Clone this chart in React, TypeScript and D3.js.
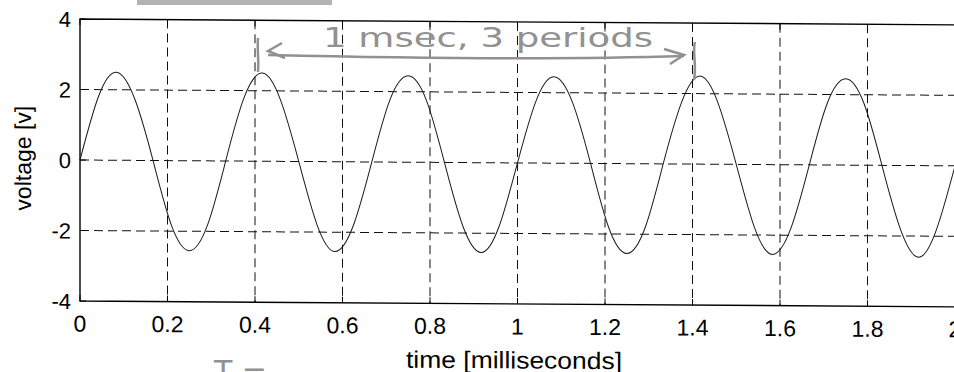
import * as d3 from "d3";

const timeMs = [
  0, 0.042, 0.083, 0.125, 0.167, 0.208, 0.25, 0.292,
  0.333, 0.375, 0.417, 0.458, 0.5, 0.542, 0.583, 0.625,
  0.667, 0.708, 0.75, 0.792, 0.833, 0.875, 0.917, 0.958,
  1, 1.042, 1.083, 1.125, 1.167, 1.208, 1.25, 1.292,
  1.333, 1.375, 1.417, 1.458, 1.5, 1.542, 1.583, 1.625,
  1.667, 1.708, 1.75, 1.792, 1.833, 1.875, 1.917, 1.958, 2,
];
const voltage = [
  0, 1.8, 2.5, 1.75, 0, -1.8, -2.55, -1.8,
  0, 1.8, 2.5, 1.75, 0, -1.8, -2.55, -1.8,
  0, 1.75, 2.45, 1.75, 0, -1.8, -2.55, -1.8,
  0, 1.75, 2.45, 1.75, 0, -1.8, -2.55, -1.8,
  0, 1.75, 2.5, 1.75, 0, -1.8, -2.55, -1.8,
  0, 1.75, 2.45, 1.75, 0, -1.8, -2.6, -1.8,
  0,
];
const xTicks = [0, 0.2, 0.4, 0.6, 0.8, 1, 1.2, 1.4, 1.6, 1.8, 2];
const xTickLabels = ["0", "0.2", "0.4", "0.6", "0.8", "1", "1.2", "1.4", "1.6", "1.8", "2"];
const yTicks = [-4, -2, 0, 2, 4];
const yTickLabels = ["-4", "-2", "0", "2", "4"];

const W = 954;
const H = 372;
const font = "'Liberation Sans', Arial, sans-serif";
const pencil = "#919191";

export default function App() {
  const x = d3.scaleLinear().domain([0, 2]).range([80, 955]);
  const y = d3.scaleLinear().domain([-4, 4]).range([300.5, 18.5]);

  const pts = timeMs.map((t, i) => [t, voltage[i]] as [number, number]);
  const line = d3
    .line<[number, number]>()
    .x((d) => x(d[0]))
    .y((d) => y(d[1]))
    .curve(d3.curveNatural);

  const [x0, x1] = x.range();
  const [yb, yt] = y.range();

  return (
    <svg
      width={W}
      height={H}
      style={{ position: "absolute", left: 0, top: 0, background: "#fff" }}
    >
      {/* scanned page is a little skewed */}
      <g transform="skewY(0.38)">
        {/* grid */}
        {xTicks
          .filter((t) => t > 0 && t < 2)
          .map((t) => (
            <line
              key={"gx" + t}
              x1={x(t)}
              x2={x(t)}
              y1={yt}
              y2={yb}
              stroke="#111"
              strokeWidth={1}
              strokeDasharray="9,5"
            />
          ))}
        {yTicks
          .filter((t) => t > -4 && t < 4)
          .map((t) => (
            <line
              key={"gy" + t}
              x1={x0}
              x2={x1}
              y1={y(t)}
              y2={y(t)}
              stroke="#111"
              strokeWidth={1}
              strokeDasharray="9,5"
            />
          ))}

        {/* axes box */}
        <path
          d={`M${x1},${yt}H${x0}V${yb}H${x1}`}
          fill="none"
          stroke="#000"
          strokeWidth={1.4}
        />
        {xTicks.map((t) => (
          <g key={"tx" + t}>
            <line x1={x(t)} x2={x(t)} y1={yb} y2={yb - 6} stroke="#000" />
            <line x1={x(t)} x2={x(t)} y1={yt} y2={yt + 6} stroke="#000" />
          </g>
        ))}
        {yTicks.map((t) => (
          <line key={"ty" + t} x1={x0} x2={x0 + 6} y1={y(t)} y2={y(t)} stroke="#000" />
        ))}

        {/* signal */}
        <path d={line(pts) || ""} fill="none" stroke="#1a1a1a" strokeWidth={1} />

        {/* tick labels */}
        {xTicks.map((t, i) => (
          <text
            key={"lx" + t}
            x={x(t)}
            y={331}
            textAnchor="middle"
            fontFamily={font}
            fontSize={23}
            fill="#000"
          >
            {xTickLabels[i]}
          </text>
        ))}
        {yTicks.map((t, i) => (
          <text
            key={"ly" + t}
            x={71}
            y={y(t) + 8}
            textAnchor="end"
            fontFamily={font}
            fontSize={22}
            fill="#000"
          >
            {yTickLabels[i]}
          </text>
        ))}

        {/* axis titles */}
        <text
          x={514}
          y={365}
          textAnchor="middle"
          fontFamily={font}
          fontSize={24}
          textLength={216}
          lengthAdjust="spacingAndGlyphs"
        >
          time [milliseconds]
        </text>
        <text
          transform="translate(31,158) rotate(-90)"
          textAnchor="middle"
          fontFamily={font}
          fontSize={23}
        >
          voltage [v]
        </text>
      </g>

      {/* pencil annotations */}
      <rect x={137} y={0} width={195} height={5} fill="#b3b3b3" />
      <path
        d="M258,38 C257,48 259,60 258,72"
        fill="none"
        stroke={pencil}
        strokeWidth={2.5}
      />
      <path
        d="M695,42 C692,52 697,64 694,80"
        fill="none"
        stroke={pencil}
        strokeWidth={2.5}
      />
      <path
        d="M268,55 C400,58 560,60 684,56"
        fill="none"
        stroke={pencil}
        strokeWidth={2.5}
      />
      <path d="M282,43 L268,51 L285,58" fill="none" stroke={pencil} strokeWidth={2.5} />
      <path d="M664,49 L684,55 L670,64" fill="none" stroke={pencil} strokeWidth={2.5} />
      <text
        x={323}
        y={47}
        fontFamily="'DejaVu Sans', sans-serif"
        fontSize={27}
        fill={pencil}
        textLength={330}
        lengthAdjust="spacingAndGlyphs"
      >
        1 msec, 3 periods
      </text>
      <text
        x={214}
        y={382}
        fontFamily="'DejaVu Sans', sans-serif"
        fontSize={30}
        fill={pencil}
      >
        T =
      </text>
    </svg>
  );
}
